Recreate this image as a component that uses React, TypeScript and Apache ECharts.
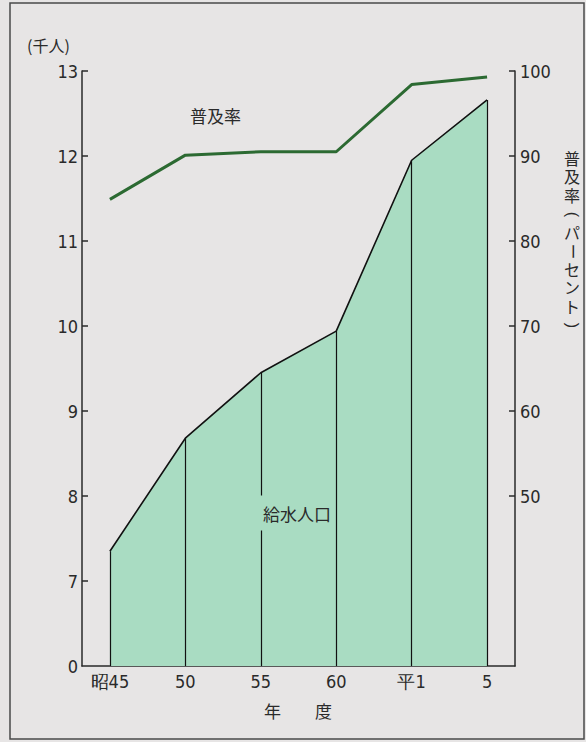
import React, { useEffect, useRef } from "react";
import * as echarts from "echarts";

const categories = ["昭45", "50", "55", "60", "平1", "5"];
const waterPopulation = [7.35, 8.68, 9.45, 9.94, 11.95, 12.66]; // 千人
const diffusionRate = [84.9, 90.1, 90.5, 90.5, 98.4, 99.3]; // パーセント
const leftTicks = [13, 12, 11, 10, 9, 8, 7, 6];
const rightTicks = [50, 60, 70, 80, 90, 100];
const rightAxisNameChars = ["普", "及", "率", "(", "パ", "ー", "セ", "ン", "ト", ")"];

const NUM_FONT = '"Liberation Sans Narrow", "DejaVu Sans Condensed", "Roboto", sans-serif';
const JA_FONT = '"Noto Sans CJK JP", sans-serif';
const VERT_FONT = '"Liberation Sans", "Noto Sans CJK JP", sans-serif';
const FILL = "#a9dcc2";
const LINE_GREEN = "#2c6a32";
const INK = "#2a2a2a";

export default function App() {
  const ref = useRef<HTMLDivElement>(null);
  useEffect(() => {
    if (!ref.current) return;
    const chart = echarts.init(ref.current, undefined, { renderer: "svg" });
    const popData = waterPopulation.map((v, i) => [i, v]);
    const rateData = diffusionRate.map((v, i) => [i, v]);
    const dropLines = waterPopulation.map((v, i) => [
      { coord: [i, v] },
      { coord: [i, 6] },
    ]);
    const rotated = new Set(["(", "ー", ")"]);
    const nameTexts = rightAxisNameChars.map((ch, i) => ({
      type: "text",
      z: 100,
      x: 572,
      y: 159 + i * 18.5,
      rotation: rotated.has(ch) ? -Math.PI / 2 : 0,
      style: {
        text: ch,
        font: `16px ${VERT_FONT}`,
        lineHeight: 17,
        fill: INK,
        align: "center",
        verticalAlign: "middle",
      },
    }));
    chart.setOption({
      animation: false,
      backgroundColor: "#e7e5e5",
      grid: { left: 82, right: 71, top: 71, bottom: 76 },
      xAxis: {
        type: "value",
        min: -0.37,
        max: 5.37,
        axisLine: { show: true, onZero: false, lineStyle: { color: INK, width: 1.5 } },
        axisTick: { show: false },
        splitLine: { show: false },
        axisLabel: {
          customValues: categories.map((_, i) => i),
          formatter: (v: number) => categories[Math.round(v)] ?? "",
          color: INK,
          fontSize: 18,
          fontFamily: NUM_FONT,
          margin: 6,
        },
      },
      yAxis: [
        {
          type: "value",
          min: 6,
          max: 13,
          interval: 1,
          position: "left",
          axisLine: { show: true, onZero: false, lineStyle: { color: INK, width: 1.5 } },
          axisTick: { show: true, inside: true, length: 6, lineStyle: { color: INK, width: 1.5 }, customValues: leftTicks.filter((t) => t !== 6) },
          splitLine: { show: false },
          axisLabel: {
            customValues: leftTicks,
            formatter: (v: number) => (v === 6 ? "0" : String(v)),
            color: INK,
            fontSize: 18,
            fontFamily: NUM_FONT,
            margin: 4,
          },
        },
        {
          type: "value",
          min: 30,
          max: 100,
          interval: 10,
          position: "right",
          axisLine: { show: true, onZero: false, lineStyle: { color: INK, width: 1.5 } },
          axisTick: { show: true, inside: true, length: 6, lineStyle: { color: INK, width: 1.5 }, customValues: rightTicks },
          splitLine: { show: false },
          axisLabel: {
            customValues: rightTicks,
            color: INK,
            fontSize: 18,
            fontFamily: NUM_FONT,
            margin: 5,
          },
        },
      ],
      series: [
        {
          name: "給水人口",
          type: "line",
          data: popData,
          yAxisIndex: 0,
          symbol: "none",
          lineStyle: { color: "#111", width: 1.6 },
          areaStyle: { color: FILL, opacity: 1, origin: "start" },
          z: 2,
          markLine: {
            silent: true,
            symbol: ["none", "none"],
            label: { show: false },
            lineStyle: { color: "#111", width: 1.2, type: "solid" },
            data: dropLines,
          },
        },
        {
          name: "普及率",
          type: "line",
          data: rateData,
          yAxisIndex: 1,
          symbol: "none",
          lineStyle: { color: LINE_GREEN, width: 3 },
          z: 5,
        },
      ],
      graphic: [
        {
          type: "rect",
          z: 100,
          shape: { x: 10, y: 3, width: 574, height: 736 },
          style: { fill: "none", stroke: "#4a4a4a", lineWidth: 1.5 },
        },
        {
          type: "text",
          z: 100,
          left: 27,
          top: 37,
          style: { text: "(千人)", font: `16px ${JA_FONT}`, fill: INK },
        },
        {
          type: "text",
          z: 100,
          left: 190,
          top: 107,
          style: { text: "普及率", font: `17px ${JA_FONT}`, fill: INK },
        },
        {
          type: "text",
          z: 100,
          x: 297,
          y: 513,
          style: {
            text: "給水人口",
            font: `17px ${JA_FONT}`,
            fill: INK,
            align: "center",
            verticalAlign: "middle",
            backgroundColor: FILL,
            padding: [9, 3],
          },
        },
        {
          type: "text",
          z: 100,
          x: 298,
          y: 710,
          style: { text: "年　　度", font: `17px ${JA_FONT}`, fill: INK, align: "center", verticalAlign: "middle" },
        },
        ...nameTexts,
      ],
    });
    return () => chart.dispose();
  }, []);
  return (
    <div
      ref={ref}
      style={{ position: "fixed", left: 0, top: 0, width: 586, height: 742 }}
    />
  );
}
